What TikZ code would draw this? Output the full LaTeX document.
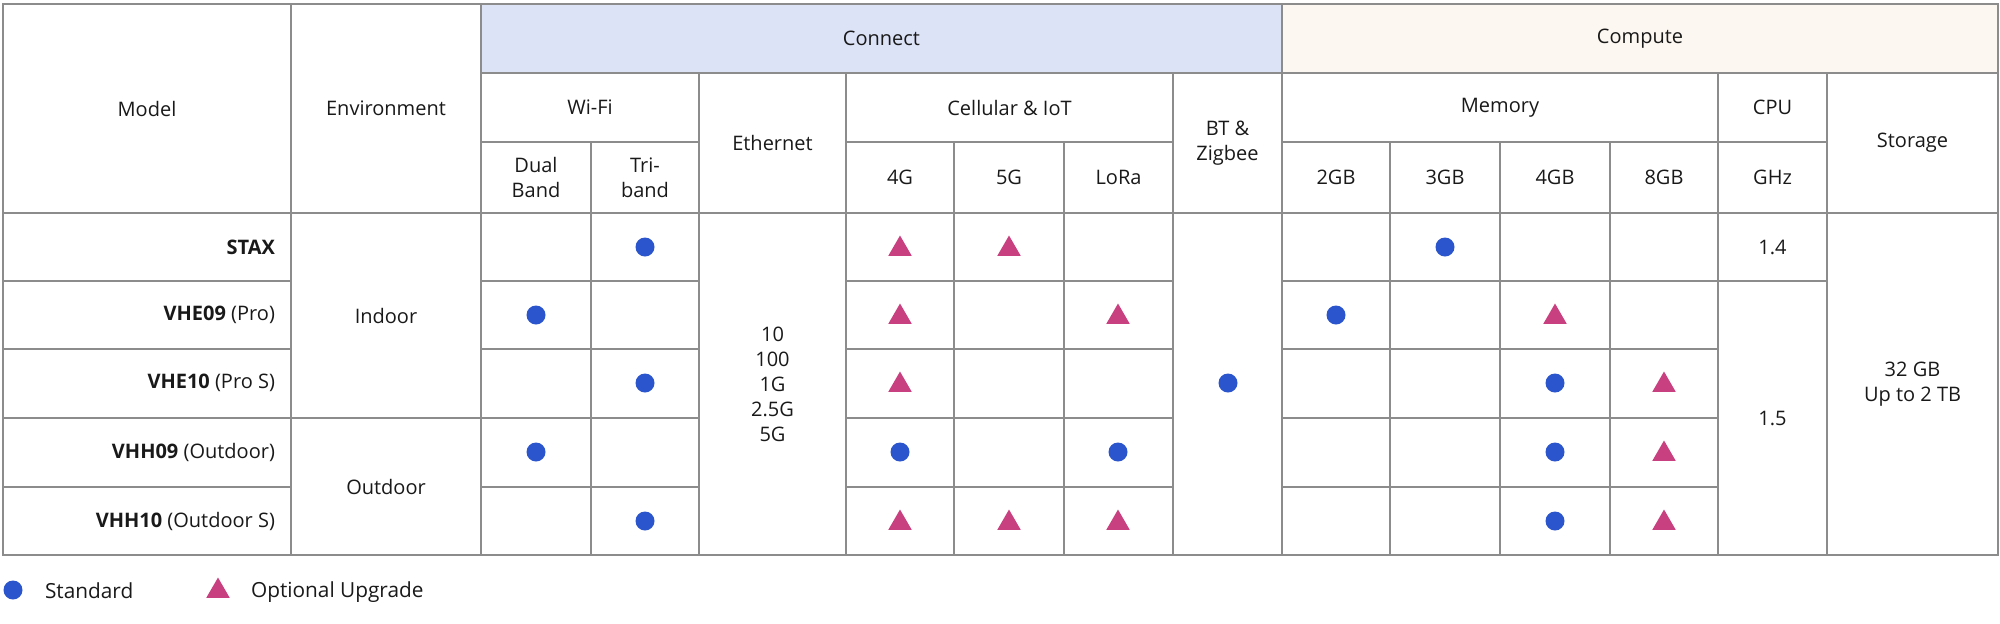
\documentclass[tikz,border=0pt]{standalone}
\usepackage{fontspec}
\setmainfont{Open Sans}
\usetikzlibrary{shapes.geometric}
\definecolor{gridc}{HTML}{8C8C8C}
\definecolor{conbg}{HTML}{DDE3F7}
\definecolor{combg}{HTML}{FDF7F1}
\definecolor{stdc}{HTML}{2B55CC}
\definecolor{optc}{HTML}{C8407F}
\tikzset{grid/.style={draw=gridc,line width=0.8pt},
 txt/.style={font=\fontsize{10}{12.5}\selectfont,align=center,text=black!90},
 legt/.style={font=\fontsize{10.4}{12.5}\selectfont,text=black!90},
 stdm/.style={circle,fill=stdc,minimum size=9.5pt,inner sep=0pt},
 optm/.style={regular polygon,regular polygon sides=3,fill=optc,minimum size=13.5pt,inner sep=0pt}}
\newcommand\cell[6]{\draw[grid] (#1,#2) rectangle (#3,#4); \node[txt] (#5) at ({(#1+#3)/2},{(#2+#4)/2}) {#6};}
\newcommand\mrk[4]{\node[#1] (#2) at (#3,#4) {};}
\begin{document}
\begin{tikzpicture}[x=0.5pt,y=-0.5pt]
\useasboundingbox (0,0) rectangle (2000,623);
\fill[conbg] (481,4) rectangle (1282,73);
\fill[combg] (1282,4) rectangle (1998,73);
% header
\cell{3}{4}{291}{213}{hmodel}{Model}
\cell{291}{4}{481}{213}{henv}{Environment}
\cell{481}{4}{1282}{73}{hcon}{Connect}
\cell{1282}{4}{1998}{73}{hcom}{Compute}
\cell{481}{73}{699}{142}{hwifi}{Wi-Fi}
\cell{481}{142}{591}{213}{hdual}{Dual\\Band}
\cell{591}{142}{699}{213}{htri}{Tri-\\band}
\cell{699}{73}{846}{213}{heth}{Ethernet}
\cell{846}{73}{1173}{142}{hcell}{Cellular \& IoT}
\cell{846}{142}{954}{213}{h4g}{4G}
\cell{954}{142}{1064}{213}{h5g}{5G}
\cell{1064}{142}{1173}{213}{hlora}{LoRa}
\cell{1173}{73}{1282}{213}{hbt}{BT \&\\Zigbee}
\cell{1282}{73}{1718}{142}{hmem}{Memory}
\cell{1282}{142}{1390}{213}{h2gb}{2GB}
\cell{1390}{142}{1500}{213}{h3gb}{3GB}
\cell{1500}{142}{1610}{213}{h4gb}{4GB}
\cell{1610}{142}{1718}{213}{h8gb}{8GB}
\cell{1718}{73}{1827}{142}{hcpu}{CPU}
\cell{1718}{142}{1827}{213}{hghz}{GHz}
\cell{1827}{73}{1998}{213}{hsto}{Storage}
% body grid
\foreach \ya/\yb in {213/281,281/349,349/418,418/487,487/555}{
  \foreach \xa/\xb in {3/291,481/591,591/699,846/954,954/1064,1064/1173,1282/1390,1390/1500,1500/1610,1610/1718}{
    \draw[grid] (\xa,\ya) rectangle (\xb,\yb);}}
\cell{291}{213}{481}{418}{bind}{Indoor}
\cell{291}{418}{481}{555}{bout}{Outdoor}
\cell{699}{213}{846}{555}{beth}{10\\100\\1G\\2.5G\\5G}
\cell{1173}{213}{1282}{555}{bbt}{}
\cell{1718}{213}{1827}{281}{bc14}{1.4}
\cell{1718}{281}{1827}{555}{bc15}{1.5}
\cell{1827}{213}{1998}{555}{bsto}{32 GB\\Up to 2 TB}
% model names
\node[txt,anchor=east] (m1) at (282,247) {\textbf{STAX}};
\node[txt,anchor=east] (m2) at (282,315) {\textbf{VHE09} (Pro)};
\node[txt,anchor=east] (m3) at (282,383) {\textbf{VHE10} (Pro S)};
\node[txt,anchor=east] (m4) at (282,452) {\textbf{VHH09} (Outdoor)};
\node[txt,anchor=east] (m5) at (282,521) {\textbf{VHH10} (Outdoor S)};
% markers
\mrk{stdm}{a1}{645}{247}\mrk{optm}{a2}{900}{249}\mrk{optm}{a3}{1009}{249}\mrk{stdm}{a4}{1445}{247}
\mrk{stdm}{b1}{536}{315}\mrk{optm}{b2}{900}{317}\mrk{optm}{b3}{1118}{317}\mrk{stdm}{b4}{1336}{315}\mrk{optm}{b5}{1555}{317}
\mrk{stdm}{c1}{645}{383}\mrk{optm}{c2}{900}{385}\mrk{stdm}{c3}{1555}{383}\mrk{optm}{c4}{1664}{385}
\mrk{stdm}{d1}{536}{452}\mrk{stdm}{d2}{900}{452}\mrk{stdm}{d3}{1118}{452}\mrk{stdm}{d4}{1555}{452}\mrk{optm}{d5}{1664}{454}
\mrk{stdm}{e1}{645}{521}\mrk{optm}{e2}{900}{523}\mrk{optm}{e3}{1009}{523}\mrk{optm}{e4}{1118}{523}\mrk{stdm}{e5}{1555}{521}\mrk{optm}{e6}{1664}{523}
\mrk{stdm}{bt}{1228}{383}
% legend
\mrk{stdm}{l1}{13}{590}
\node[legt,anchor=west] (l1t) at (38,591) {Standard};
\mrk{optm}{l2}{218}{591}
\node[legt,anchor=west] (l2t) at (244,592) {Optional Upgrade};
\end{tikzpicture}
\end{document}
